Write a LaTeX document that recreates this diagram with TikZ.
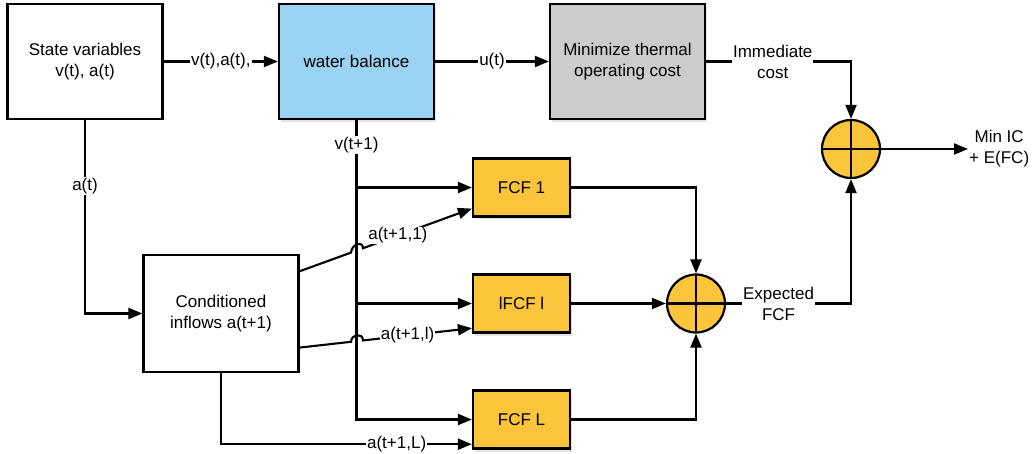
\documentclass[tikz,border=0pt]{standalone}
\usepackage{fontspec}
\setmainfont{Liberation Sans}
\usepackage{xcolor}
\usepackage{tikz}
\usetikzlibrary{arrows.meta, positioning, calc, shadows}

\definecolor{wblue}{HTML}{9AD3F2}
\definecolor{fcfgold}{HTML}{FBC43A}
\definecolor{costgray}{HTML}{CCCCCC}

\begin{document}
\begin{tikzpicture}[x=1pt, y=-1pt,
    every node/.style={font=\fontsize{17}{21}\selectfont},
    box/.style={draw, line width=2.2pt, align=center, minimum width=155pt, minimum height=115pt},
    shade/.style={drop shadow={shadow xshift=2pt, shadow yshift=-3pt, opacity=0.22}},
    fcf/.style={box, shade, fill=fcfgold, minimum width=97pt, minimum height=58pt},
    sum/.style={circle, draw, line width=2.2pt, fill=fcfgold, minimum size=58pt, inner sep=0pt,
      path picture={\draw[line width=2.2pt] (path picture bounding box.north) -- (path picture bounding box.south)
        (path picture bounding box.west) -- (path picture bounding box.east);}},
    lbl/.style={fill=white, inner sep=1pt, align=center},
    wire/.style={line width=2.1pt},
    arr/.style={wire, -{Triangle[length=14pt, width=11pt]}}]

      \useasboundingbox (0,0) rectangle (1032,454);

      \node[box] (state) at (85,61.5) {State variables\\v(t), a(t)};
      \node[box, shade, fill=wblue] (water) at (356.5,61.5) {water balance};
      \node[box, shade, fill=costgray] (minim) at (627.5,61.5) {Minimize thermal\\operating cost};
      \node[box, minimum height=117pt] (cond) at (221,313.5) {Conditioned\\inflows a(t+1)};

      \node[fcf] (fcfa) at (521.5,187.5) {FCF 1};
      \node[fcf] (fcfb) at (521.5,303.5) {lFCF l};
      \node[fcf] (fcfc) at (521.5,419.5) {FCF L};

      \node[sum] (sumtop) at (851,149) {};
      \node[sum] (sumbot) at (696,303.5) {};
      \node[anchor=west, inner sep=1pt, align=center] (minic) at (968,149) {Min IC\\+ E(FC)};

      \draw[arr] (state) -- node[lbl] {v(t),a(t),} (water);
      \draw[arr] (water) -- node[lbl] {u(t)} (minim);
      \draw[arr] (minim.east) -| node[lbl, pos=0.23] {Immediate\\cost} (sumtop.north);
      \draw[arr] (sumtop.east) -- (minic.west);
      \draw[arr] (sumbot.east) -| node[lbl, pos=0.21] {Expected\\FCF} (sumtop.south);

      \draw[arr] (water.south) |- node[lbl, pos=0.042] {v(t+1)} (fcfc.west);
      \draw[arr] (water.south |- fcfa.west) -- (fcfa.west);
      \draw[arr] (water.south |- fcfb.west) -- (fcfb.west);

      \draw[arr] (state.south) |- node[lbl, pos=0.17] {a(t)} (cond.west);

      \coordinate (a1s) at ($(cond.north east)!0.146!(cond.south east)$);
      \coordinate (a1e) at ($(fcfa.north west)!0.85!(fcfa.south west)$);
      \coordinate (a2s) at ($(cond.north east)!0.786!(cond.south east)$);
      \coordinate (a2e) at ($(fcfb.north west)!0.91!(fcfb.south west)$);
      \coordinate (a3e) at ($(fcfc.north west)!0.91!(fcfc.south west)$);
      \path (a1s) -- (a1e) coordinate[pos=0.299] (h1a) coordinate[pos=0.368] (h1b);
      \path (a2s) -- (a2e) coordinate[pos=0.299] (h2a) coordinate[pos=0.368] (h2b);

      \draw[arr] (a1s) -- (h1a) .. controls +(0,-8) and +(0,-8) .. (h1b)
        -- node[lbl, pos=0.32] {a(t+1,1)} (a1e);
      \draw[arr] (a2s) -- (h2a) .. controls +(0,-8) and +(0,-8) .. (h2b)
        -- node[lbl, pos=0.41] {a(t+1,l)} (a2e);
      \draw[arr] (cond.south) |- node[lbl, pos=0.85] {a(t+1,L)} (a3e);

      \draw[arr] (fcfa.east) -| (sumbot.north);
      \draw[arr] (fcfb) -- (sumbot);
      \draw[arr] (fcfc.east) -| (sumbot.south);
    \end{tikzpicture}
\end{document}
